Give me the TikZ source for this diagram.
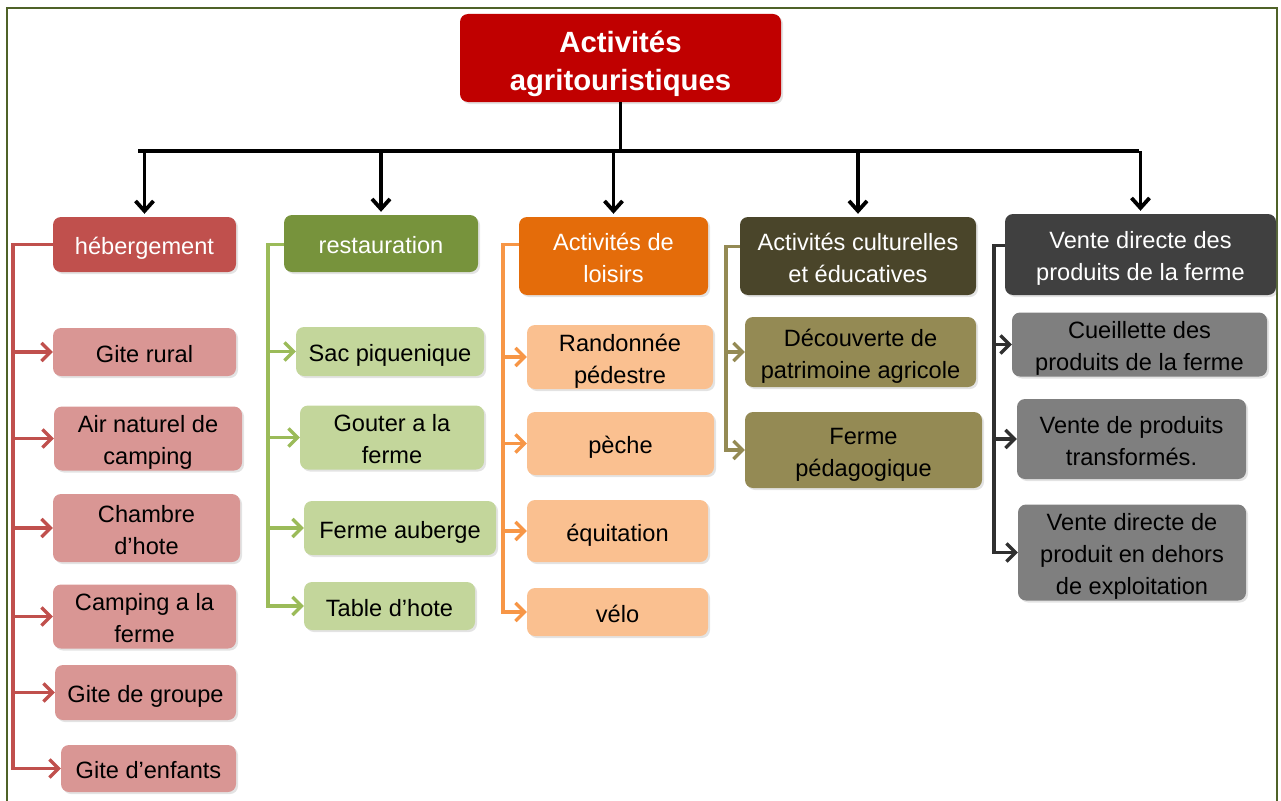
\documentclass[tikz,border=0pt]{standalone}
\usepackage{fontspec}
\setmainfont{Liberation Sans}
\usetikzlibrary{arrows.meta,shadows}
\definecolor{titlered}{HTML}{C00000}
\definecolor{hebH}{HTML}{C0504D}
\definecolor{hebC}{HTML}{D99694}
\definecolor{hebL}{HTML}{C0504D}
\definecolor{resH}{HTML}{77933C}
\definecolor{resC}{HTML}{C3D69B}
\definecolor{resL}{HTML}{9BBB59}
\definecolor{loiH}{HTML}{E46C0A}
\definecolor{loiC}{HTML}{FAC090}
\definecolor{loiL}{HTML}{F79646}
\definecolor{culH}{HTML}{4A452A}
\definecolor{culC}{HTML}{948A54}
\definecolor{culL}{HTML}{948A54}
\definecolor{venH}{HTML}{404040}
\definecolor{venC}{HTML}{7F7F7F}
\definecolor{venL}{HTML}{303030}
\definecolor{frameG}{HTML}{4F6228}
\newcommand\bxt[2][-4pt]{\raisebox{#1}[\height][\depth]{\begin{tabular}{@{}c@{}}#2\end{tabular}}}
\begin{document}
\begin{tikzpicture}[x=1pt,y=-1pt,
  box/.style={rounded corners=8pt, inner sep=0pt,
    font=\fontsize{23.6}{32}\selectfont,
    drop shadow={opacity=.22,shadow xshift=2pt,shadow yshift=-2pt}},
  head/.style={box, text=white},
  child/.style={box, text=black},
  mainline/.style={line width=3.8pt, black},
  mainarr/.style={mainline, -{Straight Barb[length=10pt,width=18pt]}, shorten >=3pt},
  brarr/.style={line width=3.3pt, -{Straight Barb[length=9pt,width=18pt]}},
]
\useasboundingbox (0,0) rectangle (1281,800);
\draw[frameG, line width=2.5pt] (7,805) -- (7,8) -- (1277,8) -- (1277,805);

% title
\node[box, fill=titlered, text=white, minimum width=321pt, minimum height=88pt,
  font=\fontsize{29.3}{38}\selectfont\bfseries] (title) at (620.5,58) {\bxt[-5.4pt]{Activités\\agritouristiques}};

% headers
\node[head, fill=hebH, minimum width=183pt, minimum height=55pt] (heb) at (144.5,244.5) {\bxt{hébergement}};
\node[head, fill=resH, minimum width=194pt, minimum height=57pt] (res) at (381,243.5) {\bxt{restauration}};
\node[head, fill=loiH, minimum width=189pt, minimum height=78pt] (loi) at (613.5,256) {\bxt{Activités de\\loisirs}};
\node[head, fill=culH, minimum width=236pt, minimum height=78pt] (cul) at (858,256) {\bxt{Activités culturelles\\et éducatives}};
\node[head, fill=venH, minimum width=271pt, minimum height=81pt] (ven) at (1140.5,254.5) {\bxt{Vente directe des\\produits de la ferme}};

% children hebergement
\node[child, fill=hebC, minimum width=183pt, minimum height=48pt] (h1) at (144.5,352) {\bxt{Gite rural}};
\node[child, fill=hebC, minimum width=188pt, minimum height=63pt] (h2) at (148,438.5) {\bxt{Air naturel de\\camping}};
\node[child, fill=hebC, minimum width=187pt, minimum height=68pt] (h3) at (146.5,528) {\bxt{Chambre\\d’hote}};
\node[child, fill=hebC, minimum width=183pt, minimum height=55pt] (h4) at (144.5,616.5) {\bxt{Camping a la\\ferme}};
\node[child, fill=hebC, minimum width=181pt, minimum height=55pt] (h5) at (145.5,692.5) {\bxt{Gite de groupe}};
\node[child, fill=hebC, minimum width=175pt, minimum height=47pt] (h6) at (148.5,768.5) {\bxt{Gite d’enfants}};

% children restauration
\node[child, fill=resC, minimum width=188pt, minimum height=49pt] (r1) at (390,351.5) {\bxt{Sac piquenique}};
\node[child, fill=resC, minimum width=184pt, minimum height=61pt] (r2) at (392,437.5) {\bxt{Gouter a la\\ferme}};
\node[child, fill=resC, minimum width=192pt, minimum height=54pt] (r3) at (400,528) {\bxt{Ferme auberge}};
\node[child, fill=resC, minimum width=171pt, minimum height=48pt] (r4) at (389.5,606) {\bxt{Table d’hote}};

% children loisirs
\node[child, fill=loiC, minimum width=186pt, minimum height=62pt] (l1) at (620,357) {\bxt{Randonnée\\pédestre}};
\node[child, fill=loiC, minimum width=187pt, minimum height=63pt] (l2) at (620.5,443.5) {\bxt{pèche}};
\node[child, fill=loiC, minimum width=181pt, minimum height=62pt] (l3) at (617.5,531) {\bxt{équitation}};
\node[child, fill=loiC, minimum width=181pt, minimum height=48pt] (l4) at (617.5,612) {\bxt{vélo}};

% children culturelles
\node[child, fill=culC, minimum width=231pt, minimum height=70pt] (c1) at (860.5,352) {\bxt{Découverte de\\patrimoine agricole}};
\node[child, fill=culC, minimum width=237pt, minimum height=76pt] (c2) at (863.5,450) {\bxt{Ferme\\pédagogique}};

% children vente
\node[child, fill=venC, minimum width=255pt, minimum height=63pt] (v1) at (1139.5,344.5) {\bxt{Cueillette des\\produits de la ferme}};
\node[child, fill=venC, minimum width=229pt, minimum height=80pt] (v2) at (1131.5,439) {\bxt{Vente de produits\\transformés.}};
\node[child, fill=venC, minimum width=228pt, minimum height=95pt] (v3) at (1132,552.5) {\bxt{Vente directe de\\produit en dehors\\de exploitation}};

% main tree
\coordinate (busL) at (138,151);
\coordinate (busR) at (1139,151);
\draw[mainline] (busL) -- (busR);
\draw[mainline] (title.south) -- (title.south |- busL);
\foreach \n in {heb,res,loi,cul,ven}
  \draw[mainarr] (\n.north |- busL) -- (\n.north);

% branch buses
\coordinate (hx) at (13,0);
\coordinate (rx) at (268,0);
\coordinate (lx) at (503,0);
\coordinate (cx) at (726,0);
\coordinate (vx) at (994,0);
\foreach \c in {h1,h2,h3,h4,h5,h6}
  \draw[brarr, hebL] ([yshift=-28pt]heb.north west) -| (hx |- \c.west) -- (\c.west);
\foreach \c in {r1,r2,r3,r4}
  \draw[brarr, resL] ([yshift=-30pt]res.north west) -| (rx |- \c.west) -- (\c.west);
\foreach \c in {l1,l2,l3,l4}
  \draw[brarr, loiL] ([yshift=-28pt]loi.north west) -| (lx |- \c.west) -- (\c.west);
\foreach \c in {c1,c2}
  \draw[brarr, culL] ([yshift=-30pt]cul.north west) -| (cx |- \c.west) -- (\c.west);
\foreach \c in {v1,v2,v3}
  \draw[brarr, venL] ([yshift=-32pt]ven.north west) -| (vx |- \c.west) -- (\c.west);
\end{tikzpicture}
\end{document}
